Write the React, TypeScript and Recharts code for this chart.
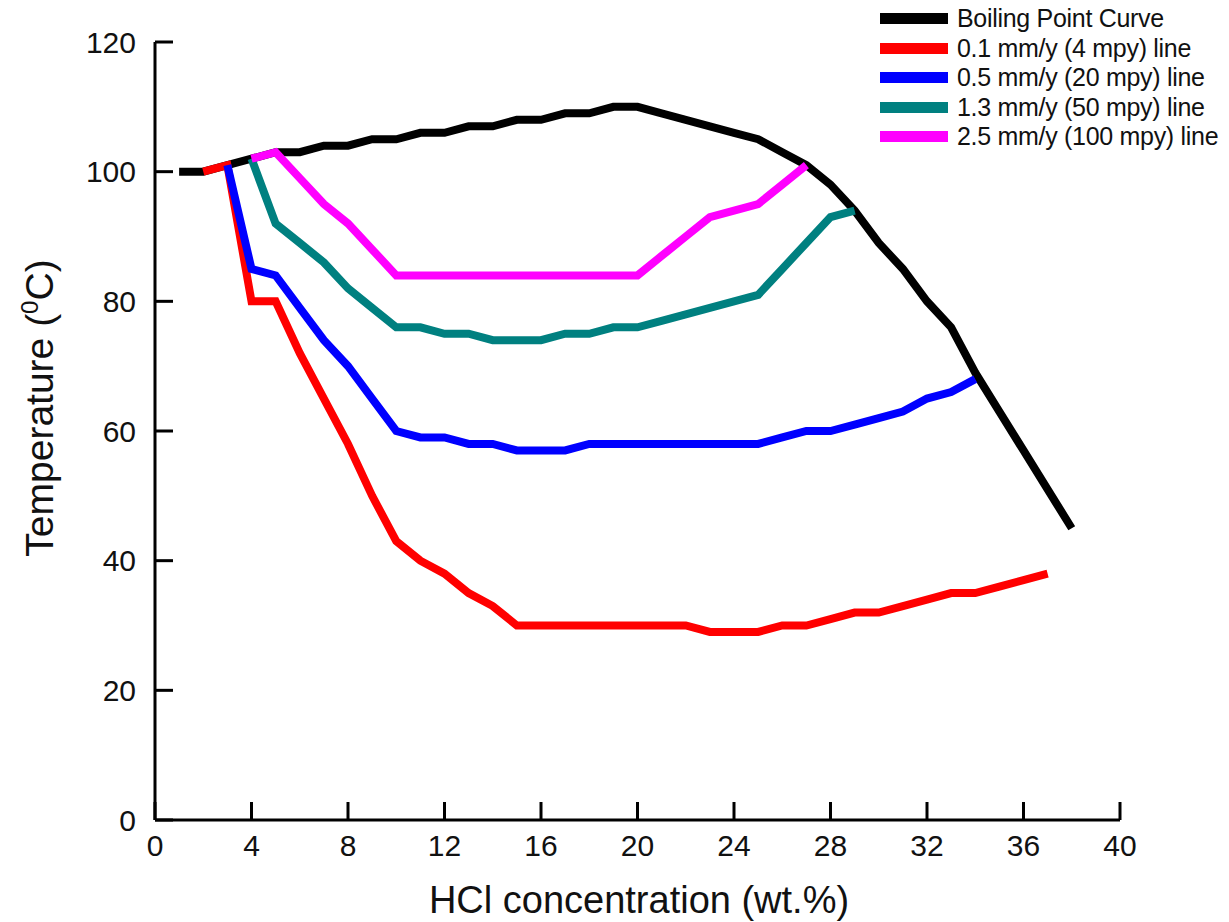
import { LineChart, Line, XAxis, YAxis, Legend } from 'recharts'

// HCl concentration (wt.%) vs temperature (°C)
const boilX = [1, 2, 3, 4, 5, 6, 7, 8, 9, 10, 11, 12, 13, 14, 15, 16, 17, 18, 19, 20, 21, 22, 23, 24, 25, 26, 27, 28, 29, 30, 31, 32, 33, 34, 35, 36, 37, 38]
const boilY = [100, 100, 101, 102, 103, 103, 104, 104, 105, 105, 106, 106, 107, 107, 108, 108, 109, 109, 110, 110, 109, 108, 107, 106, 105, 103, 101, 98, 94, 89, 85, 80, 76, 69, 63, 57, 51, 45]

const redX = [2, 3, 4, 5, 6, 7, 8, 9, 10, 11, 12, 13, 14, 15, 16, 17, 18, 19, 20, 21, 22, 23, 24, 25, 26, 27, 28, 29, 30, 31, 32, 33, 34, 35, 36, 37]
const redY = [100, 101, 80, 80, 72, 65, 58, 50, 43, 40, 38, 35, 33, 30, 30, 30, 30, 30, 30, 30, 30, 29, 29, 29, 30, 30, 31, 32, 32, 33, 34, 35, 35, 36, 37, 38]

const blueX = [3, 4, 5, 6, 7, 8, 9, 10, 11, 12, 13, 14, 15, 16, 17, 18, 19, 20, 21, 22, 23, 24, 25, 26, 27, 28, 29, 30, 31, 32, 33, 34]
const blueY = [101, 85, 84, 79, 74, 70, 65, 60, 59, 59, 58, 58, 57, 57, 57, 58, 58, 58, 58, 58, 58, 58, 58, 59, 60, 60, 61, 62, 63, 65, 66, 68]

const tealX = [4, 5, 6, 7, 8, 9, 10, 11, 12, 13, 14, 15, 16, 17, 18, 19, 20, 21, 22, 23, 24, 25, 26, 27, 28, 29]
const tealY = [102, 92, 89, 86, 82, 79, 76, 76, 75, 75, 74, 74, 74, 75, 75, 76, 76, 77, 78, 79, 80, 81, 85, 89, 93, 94]

const pinkX = [4, 5, 6, 7, 8, 9, 10, 11, 12, 13, 14, 15, 16, 17, 18, 19, 20, 21, 22, 23, 24, 25, 26, 27]
const pinkY = [102, 103, 99, 95, 92, 88, 84, 84, 84, 84, 84, 84, 84, 84, 84, 84, 84, 87, 90, 93, 94, 95, 98, 101]

const xTicks = [0, 4, 8, 12, 16, 20, 24, 28, 32, 36, 40]
const yTicks = [0, 20, 40, 60, 80, 100, 120]

const toPoints = (xs: number[], ys: number[]) => xs.map((x, i) => ({ x, t: ys[i] }))

const series = [
  { name: 'Boiling Point Curve', color: '#000000', data: toPoints(boilX, boilY) },
  { name: '0.1 mm/y (4 mpy) line', color: '#ff0000', data: toPoints(redX, redY) },
  { name: '0.5 mm/y (20 mpy) line', color: '#0000ff', data: toPoints(blueX, blueY) },
  { name: '1.3 mm/y (50 mpy) line', color: '#008080', data: toPoints(tealX, tealY) },
  { name: '2.5 mm/y (100 mpy) line', color: '#ff00ff', data: toPoints(pinkX, pinkY) },
]

const FONT = '"Liberation Sans", Arial, sans-serif'
const axisStyle = { stroke: '#000', strokeWidth: 3 }

function LegendBox() {
  return (
    <div style={{ fontFamily: FONT, fontSize: 25, color: '#111' }}>
      {series.map(s => (
        <div key={s.name} style={{ display: 'flex', alignItems: 'center', height: 29.5, whiteSpace: 'nowrap' }}>
          <div style={{ width: 68, height: 11, background: s.color, marginRight: 9 }} />
          <span style={{ letterSpacing: -0.3 }}>{s.name}</span>
        </div>
      ))}
    </div>
  )
}

export default function App() {
  return (
    <div style={{ position: 'absolute', left: 0, top: 0, width: 1229, height: 922, background: '#fff' }}>
      <LineChart width={1229} height={922} margin={{ top: 42, right: 109, bottom: 2, left: 55 }}>
        <XAxis
          type="number"
          dataKey="x"
          domain={[0, 40]}
          ticks={xTicks}
          allowDataOverflow
          height={100}
          axisLine={axisStyle}
          tickLine={axisStyle}
          tickSize={-18}
          tickMargin={33}
          tick={{ fontSize: 30, fill: '#111', fontFamily: FONT }}
          label={{
            content: () => (
              <text x={639} y={913} textAnchor="middle" fontSize={38} fontFamily={FONT} fill="#111">
                HCl concentration (wt.%)
              </text>
            ),
          }}
        />
        <YAxis
          type="number"
          domain={[0, 120]}
          ticks={yTicks}
          allowDataOverflow
          width={100}
          axisLine={axisStyle}
          tickLine={axisStyle}
          tickSize={-18}
          tickMargin={37}
          tick={{ fontSize: 30, fill: '#111', fontFamily: FONT }}
          label={{
            content: () => (
              <text x={53} y={408} transform="rotate(-90, 53, 408)" textAnchor="middle" fontSize={39} fontFamily={FONT} fill="#111">
                Temperature (<tspan dy={-15} fontSize={24}>0</tspan><tspan dy={15}>C)</tspan>
              </text>
            ),
          }}
        />
        <Legend
          layout="vertical"
          align="center"
          verticalAlign="middle"
          wrapperStyle={{ left: 880, top: 4, width: 'auto', height: 'auto' }}
          content={() => <LegendBox />}
        />
        {series.map(s => (
          <Line
            key={s.name}
            data={s.data}
            dataKey="t"
            name={s.name}
            type="linear"
            stroke={s.color}
            strokeWidth={8}
            dot={false}
            activeDot={false}
            isAnimationActive={false}
          />
        ))}
      </LineChart>
    </div>
  )
}
